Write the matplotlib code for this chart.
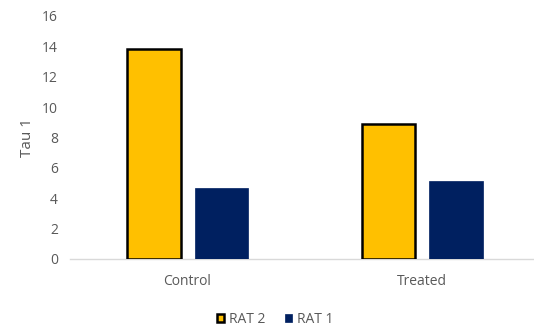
import matplotlib
matplotlib.use("Agg")
import matplotlib.pyplot as plt
import numpy as np

plt.rcParams['font.family'] = ['Open Sans', 'DejaVu Sans']

categories = ["Control", "Treated"]
rat2 = [13.8, 8.9]
rat1 = [4.65, 5.15]
yticks = [0, 2, 4, 6, 8, 10, 12, 14, 16]

yellow = "#FFC000"
navy = "#002060"
gray = "#595959"

fig = plt.figure(figsize=(5.34, 3.32), dpi=100)
ax = fig.add_axes([0.1316, 0.22, 0.878, 0.732])

x = np.arange(len(categories))
w = 0.228
ax.bar(x - 0.143, rat2, w, color=yellow, edgecolor="black", linewidth=1.8, label="RAT 2", zorder=3)
ax.bar(x + 0.145, rat1, w, color=navy, edgecolor=navy, linewidth=0.5, label="RAT 1", zorder=3)

ax.set_xlim(-0.5, 1.5)
ax.set_ylim(0, 16)
ax.set_yticks(yticks)
ax.set_xticks(x)
ax.set_xticklabels(categories)
ax.tick_params(axis="both", length=0, colors=gray, labelsize=10)
ax.tick_params(axis="x", pad=11)
ax.tick_params(axis="y", pad=9)
for s in ["top", "right", "left"]:
    ax.spines[s].set_visible(False)
ax.spines["bottom"].set_color("#d9d9d9")
ax.spines["bottom"].set_linewidth(1)
ax.set_ylabel("Tau 1", color=gray, fontsize=11, labelpad=5)

ax.legend(loc="lower center", bbox_to_anchor=(0.437, -0.33), ncol=2, frameon=False,
          fontsize=10, labelcolor=gray, handlelength=0.55, handleheight=0.55,
          handletextpad=0.35, columnspacing=1.4)

fig.savefig("out.png", dpi=100)
